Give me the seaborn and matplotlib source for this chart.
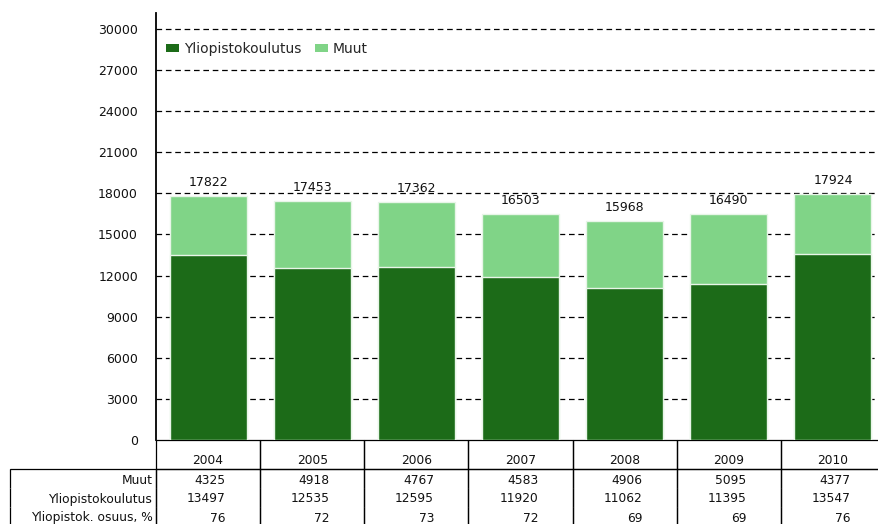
# %%
# 1. Import packages

import pandas as pd
import matplotlib
matplotlib.use("Agg")
import matplotlib.pyplot as plt
from matplotlib.patches import Patch
import seaborn as sns

sns.set_theme(style="white")
plt.rcParams['font.family'] = ['DejaVu Sans']

# %%
# 2. Data

years = ["2004", "2005", "2006", "2007", "2008", "2009", "2010"]
muut = [4325, 4918, 4767, 4583, 4906, 5095, 4377]
yliopisto = [13497, 12535, 12595, 11920, 11062, 11395, 13547]
osuus = [76, 72, 73, 72, 69, 69, 76]
row_labels = ["Muut", "Yliopistokoulutus", "Yliopistok. osuus, %"]
y_ticks = [0, 3000, 6000, 9000, 12000, 15000, 18000, 21000, 24000, 27000, 30000]

df = pd.DataFrame({"year": years, "Muut": muut, "Yliopistokoulutus": yliopisto})
df["total"] = df["Muut"] + df["Yliopistokoulutus"]

dark = "#1c6b18"
light = "#80d487"

# %%
# 3. Figure and axes

fig = plt.figure(figsize=(8.79, 5.24), dpi=100)
fig.patch.set_facecolor("white")
ax = fig.add_axes([156 / 879, 84 / 524, 729 / 879, 427 / 524])
ax.set_facecolor("white")

# Stacked bars: total (light) first, then university part (dark) on top
sns.barplot(data=df, x="year", y="total", color=light, width=0.74,
            edgecolor="#e8f5e8", linewidth=1, saturation=1, ax=ax, zorder=3)
sns.barplot(data=df, x="year", y="Yliopistokoulutus", color=dark, width=0.74,
            edgecolor="#e8f5e8", linewidth=1, saturation=1, ax=ax, zorder=3)

# Totals above the bars
ax.bar_label(ax.containers[0], labels=[str(v) for v in df["total"]],
             padding=5, fontsize=9, color="#111111")

# Axis setup
ax.set_xlim(-0.5, 6.5)
ax.set_ylim(0, 31150)
ax.set_yticks(y_ticks)
ax.set_yticklabels([str(t) for t in y_ticks], fontsize=9, color="#111111")
ax.tick_params(axis="y", length=0, pad=13)
ax.set_xticks([])
ax.set_xlabel("")
ax.set_ylabel("")
for t in y_ticks[1:]:
    ax.axhline(t, color="black", lw=0.9, ls=(0, (4.5, 3)), zorder=1)
for s in ["top", "right", "bottom"]:
    ax.spines[s].set_visible(False)
ax.spines["left"].set_color("black")
ax.spines["left"].set_linewidth(1.3)

# Legend
handles = [Patch(facecolor=dark, edgecolor="none", label="Yliopistokoulutus"),
           Patch(facecolor=light, edgecolor="none", label="Muut")]
ax.legend(handles=handles, loc="upper left", bbox_to_anchor=(0.0, 0.955),
          ncol=2, frameon=False, fontsize=10, handlelength=0.95,
          handleheight=0.55, handletextpad=0.35, columnspacing=1.0,
          borderaxespad=0.3)

# %%
# 4. Data table under the chart

cell_text = [[str(v) for v in muut],
             [str(v) for v in yliopisto],
             [str(v) for v in osuus]]
label_w = 146 / 729
col_w = 1 / len(years)
table = ax.table(cellText=cell_text, colLabels=years,
                 colWidths=[col_w] * len(years),
                 cellLoc="right", colLoc="center",
                 bbox=[0, -86 / 427, 1, 86 / 427])
# row labels added by hand so the column keeps a fixed width
for i, lab in enumerate(row_labels):
    table.add_cell(i + 1, -1, width=label_w, height=19, text=lab, loc="right")
table.auto_set_font_size(False)
table.set_fontsize(8.8)

for (r, c), cell in table.get_celld().items():
    cell.set_linewidth(0.9)
    cell.set_edgecolor("black")
    cell.set_facecolor("none")
    cell.get_text().set_color("#111111")
    if r == 0:
        cell.set_height(29)
        cell.visible_edges = "closed"
        cell.get_text().set_va("top")
    else:
        cell.set_height(19)
        cell.visible_edges = "TLR" if r == 1 else "LR"
        cell.get_text().set_va("center_baseline")
        if c == -1:
            cell.PAD = 0.025
        else:
            cell.PAD = 0.33

plt.savefig("out.png", dpi=100)
